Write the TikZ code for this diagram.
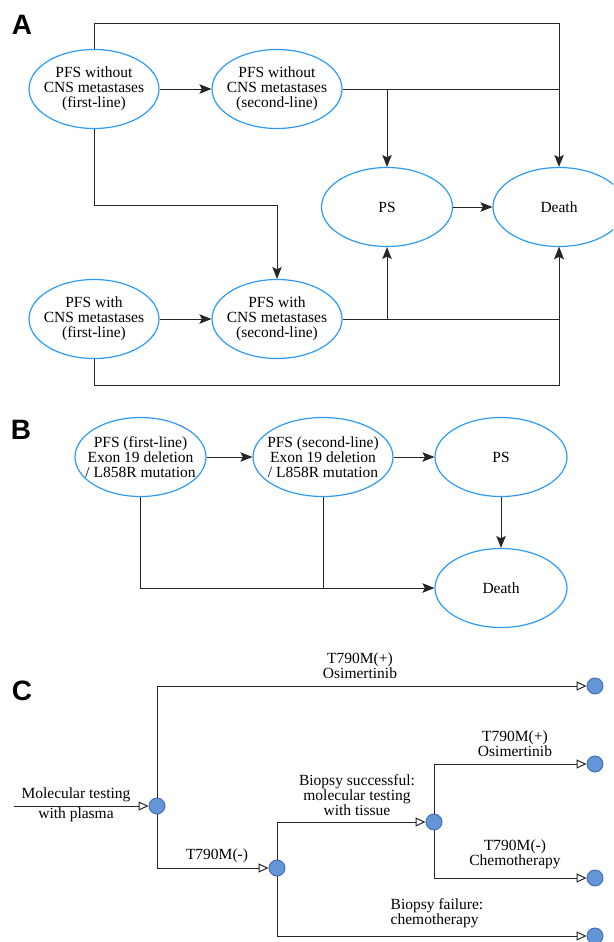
\documentclass[tikz,border=0pt]{standalone}
\usepackage{fontspec}
\setmainfont{Liberation Serif}
\newfontfamily\panelfont{Liberation Sans}
\usetikzlibrary{shapes.geometric,arrows.meta}
\definecolor{ellblue}{RGB}{45,155,245}
\definecolor{dotfill}{RGB}{100,150,215}
\definecolor{dotdraw}{RGB}{65,105,185}
\begin{document}
\begin{tikzpicture}[x=1pt,y=-1pt,
  ell/.style={ellipse,draw=ellblue,line width=1.2pt,inner sep=0pt,minimum width=#1,minimum height=79pt},
  ell/.default=130pt,
  txt/.style={font=\fontsize{15.5}{15.2}\selectfont,align=center,inner sep=0pt},
  conn/.style={line width=1pt,draw=black!85},
  arr/.style={conn,-{Stealth[length=12pt,width=9.5pt,inset=2.5pt]}},
  oarr/.style={conn,-{Triangle[open,length=10pt,width=9pt,fill=white]}},
  dot/.style={circle,fill=dotfill,draw=dotdraw,line width=0.9pt,minimum size=16pt,inner sep=0pt},
  plabel/.style={font=\panelfont\bfseries\fontsize{28}{28}\selectfont,inner sep=0pt}]
\useasboundingbox (0,0) rectangle (613,942);
\clip (0,0) rectangle (613,942);
% ---------------- Panel A
\node[plabel] (lA) at (22,25) {A};
\node[ell] (a1) at (94,89) {};
\node[txt] at (a1) {PFS without\\CNS metastases\\(first-line)};
\node[ell] (a2) at (277,89) {};
\node[txt] at (a2) {PFS without\\CNS metastases\\(second-line)};
\node[ell=131pt] (psA) at (387,207) {};
\node[txt] at (psA) {PS};
\node[ell=132pt] (dA) at (559,207) {};
\node[txt] at (dA) {Death};
\node[ell] (a3) at (94,319) {};
\node[txt] at (a3) {PFS with\\CNS metastases\\(first-line)};
\node[ell] (a4) at (277,319) {};
\node[txt] at (a4) {PFS with\\CNS metastases\\(second-line)};
\coordinate (tA1) at (94,24);
\coordinate (tA2) at (559,24);
\draw[arr] (a1.north) -- (tA1) -- (tA2) -- (dA.north);
\draw[arr] (a1.east) -- (a2.west);
\draw[conn] (a2.east) -- (a2.east -| dA.north);
\draw[arr] (a2.east -| psA.north) -- (psA.north);
\draw[arr] (a1.south) -- ++(0,76) -| (a4.north);
\draw[arr] (psA.east) -- (dA.west);
\draw[arr] (a3.east) -- (a4.west);
\draw[arr] (a4.east) -| (dA.south);
\draw[arr] (a4.east -| psA.south) -- (psA.south);
\draw[arr] (a3.south) -- ++(0,26) -| (dA.south);
% ---------------- Panel B
\node[plabel] (lB) at (21,430) {B};
\node[ell=131pt] (b1) at (140.5,457) {};
\node[txt] at (b1) {PFS (first-line)\\Exon 19 deletion\\/ L858R mutation};
\node[ell=140pt] (b2) at (323,457) {};
\node[txt] at (b2) {PFS (second-line)\\Exon 19 deletion\\/ L858R mutation};
\node[ell=132pt] (bps) at (501,457) {};
\node[txt] at (bps) {PS};
\node[ell=132pt] (bd) at (501,588) {};
\node[txt] at (bd) {Death};
\draw[arr] (b1.east) -- (b2.west);
\draw[arr] (b2.east) -- (bps.west);
\draw[arr] (bps.south) -- (bd.north);
\draw[arr] (b1.south) |- (bd.west);
\draw[conn] (b2.south) -- (b2.south |- bd.west);
% ---------------- Panel C
\node[plabel] (lC) at (22,691) {C};
\coordinate (cin) at (14,806);
\node[dot] (c0) at (157,806) {};
\node[dot] (c1) at (277,868) {};
\node[dot] (c2) at (434,822) {};
\node[dot] (e1) at (595,686) {};
\node[dot] (e2) at (595,764) {};
\node[dot] (e3) at (595,878) {};
\node[dot] (e4) at (595,936) {};
\draw[oarr] (cin) -- (c0);
\draw[oarr] (c0) |- (e1);
\draw[oarr] (c0) |- (c1);
\draw[oarr] (c1) |- (c2);
\draw[oarr] (c1) |- (e4);
\draw[oarr] (c2) |- (e2);
\draw[oarr] (c2) |- (e3);
\node[txt] at (76,795) {Molecular testing};
\node[txt] at (76,815) {with plasma};
\node[txt] at (360,665.5) {T790M(+)\\Osimertinib};
\node[txt] at (217,856) {T790M(-)};
\node[txt] at (357,795) {Biopsy successful:\\molecular testing\\with tissue};
\node[txt,align=left] at (437,913.5) {Biopsy failure:\\chemotherapy};
\node[txt] at (515,743.5) {T790M(+)\\Osimertinib};
\node[txt] at (515,854.5) {T790M(-)\\Chemotherapy};
\end{tikzpicture}
\end{document}
